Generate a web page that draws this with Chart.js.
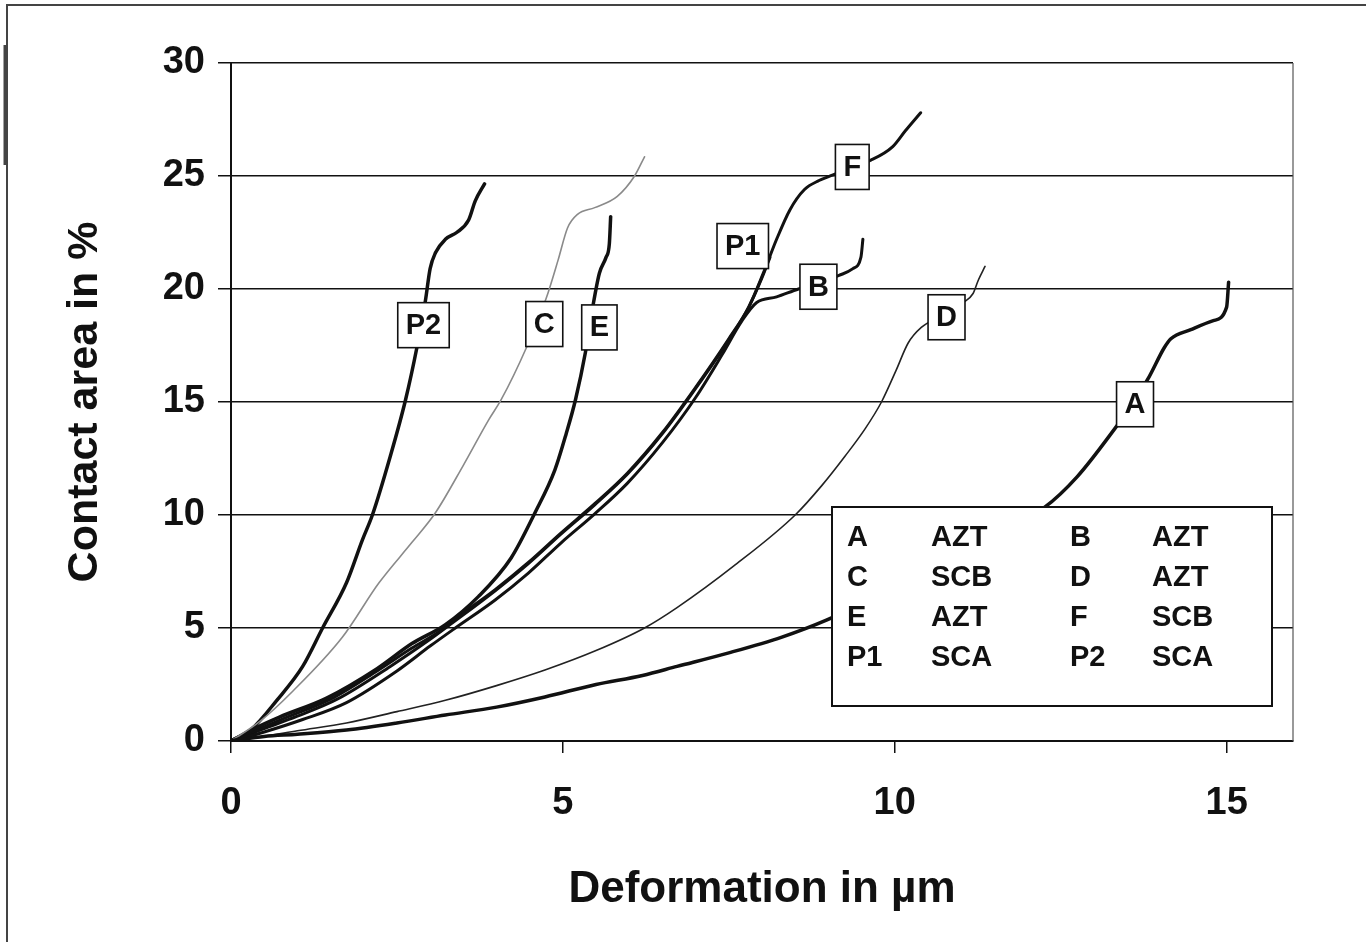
<!DOCTYPE html>
<html>
<head>
<meta charset="utf-8">
<title>Contact area vs deformation</title>
<script src="https://cdn.jsdelivr.net/npm/chart.js@4.4.1/dist/chart.umd.min.js"></script>
<style>
  html, body { margin: 0; padding: 0; background: #fff; }
  canvas { display: block; }
</style>
</head>
<body>
<canvas id="chart" width="1366" height="942"></canvas>
<script>
// Deformation (µm) and contact area (%) for each sample curve
const aX = [0, 0.5, 1.0, 1.74, 2.5, 3.23, 4.0, 4.73, 5.5, 6.2, 6.72, 7.5, 8.3, 8.97, 10.0, 11.0, 11.7, 12.26, 12.75, 13.31, 13.6, 13.83, 14.06, 14.16, 14.46, 14.8, 15.0, 15.03];
const aY = [0, 0.2, 0.3, 0.49, 0.8, 1.15, 1.5, 1.95, 2.5, 2.9, 3.3, 3.9, 4.6, 5.35, 6.8, 8.3, 9.5, 10.35, 11.7, 13.8, 15.0, 16.1, 17.4, 17.8, 18.2, 18.6, 19.2, 20.3];

const bX = [0, 0.5, 1.08, 1.74, 2.5, 3.0, 3.38, 3.98, 4.48, 4.97, 5.48, 5.97, 6.5, 7.0, 7.4, 7.7, 7.92, 8.22, 8.55, 8.85, 9.16, 9.37, 9.49, 9.52];
const bY = [0, 0.4, 0.95, 1.7, 3.1, 4.2, 5.0, 6.24, 7.43, 8.76, 10.05, 11.4, 13.2, 15.2, 17.1, 18.6, 19.4, 19.65, 20.0, 20.25, 20.6, 20.9, 21.4, 22.2];

const cX = [0, 0.45, 0.93, 1.68, 2.23, 2.73, 3.08, 3.5, 3.88, 4.07, 4.45, 4.75, 4.93, 5.07, 5.22, 5.48, 5.82, 6.08, 6.23];
const cY = [0, 0.9, 2.2, 4.6, 7.0, 8.8, 10.1, 12.2, 14.2, 15.1, 17.4, 19.6, 21.3, 22.7, 23.3, 23.6, 24.1, 25.0, 25.85];

const dX = [0, 0.5, 1.0, 1.74, 2.5, 3.23, 4.0, 4.73, 5.5, 6.23, 6.72, 7.6, 8.5, 8.9, 9.25, 9.55, 9.8, 10.02, 10.2, 10.4, 10.7, 11.03, 11.18, 11.26, 11.36];
const dY = [0, 0.2, 0.45, 0.8, 1.3, 1.8, 2.45, 3.14, 4.0, 5.0, 5.9, 7.8, 10.0, 11.3, 12.6, 13.8, 15.0, 16.4, 17.6, 18.3, 18.8, 19.4, 19.8, 20.4, 21.0];

const eX = [0, 0.35, 0.73, 1.44, 2.2, 2.72, 3.23, 3.73, 4.22, 4.58, 4.88, 5.05, 5.19, 5.34, 5.45, 5.55, 5.65, 5.7, 5.72];
const eY = [0, 0.55, 1.06, 1.9, 3.2, 4.3, 5.15, 6.4, 8.1, 10.1, 12.0, 13.6, 15.1, 17.2, 19.2, 20.7, 21.4, 22.0, 23.2];

const fX = [0, 0.4, 0.8, 1.5, 2.2, 2.72, 3.17, 3.47, 3.98, 4.48, 4.97, 5.48, 5.97, 6.5, 7.0, 7.5, 7.8, 8.02, 8.22, 8.42, 8.64, 8.86, 9.07, 9.35, 9.64, 9.97, 10.16, 10.39];
const fY = [0, 0.5, 1.0, 1.85, 3.1, 4.1, 4.9, 5.6, 6.7, 7.9, 9.2, 10.5, 11.85, 13.65, 15.65, 17.8, 19.2, 20.7, 22.2, 23.5, 24.4, 24.8, 25.05, 25.4, 25.7, 26.3, 27.0, 27.8];

const p1X = [0, 0.5, 1.0, 1.6, 2.4, 3.0, 3.3, 3.98, 4.48, 4.97, 5.48, 5.97, 6.5, 7.0, 7.5, 7.8, 8.0, 8.12];
const p1Y = [0, 0.55, 1.1, 1.85, 3.3, 4.5, 5.15, 6.65, 7.85, 9.15, 10.45, 11.8, 13.6, 15.6, 17.75, 19.2, 20.5, 21.4];

const p2X = [0, 0.3, 0.69, 1.08, 1.38, 1.74, 1.98, 2.13, 2.4, 2.63, 2.8, 2.93, 3.0, 3.08, 3.23, 3.4, 3.58, 3.68, 3.82];
const p2Y = [0, 0.5, 1.8, 3.3, 5.0, 7.0, 8.9, 10.0, 12.6, 15.1, 17.4, 19.5, 20.9, 21.6, 22.2, 22.5, 23.05, 23.9, 24.65];

// Curve names, materials and where each name tag sits (data units)
const curveNames = ['A', 'B', 'C', 'D', 'E', 'F', 'P1', 'P2'];
const materials = ['AZT', 'AZT', 'SCB', 'AZT', 'AZT', 'SCB', 'SCA', 'SCA'];
const tagX = [13.62, 8.85, 4.72, 10.78, 5.55, 9.36, 7.71, 2.90];
const tagY = [14.9, 20.1, 18.45, 18.75, 18.3, 25.4, 21.9, 18.4];

// Axis ticks
const xTicks = [0, 5, 10, 15];
const yTicks = [0, 5, 10, 15, 20, 25, 30];

const FONT = "'Liberation Sans', Arial, Helvetica, sans-serif";

function pts(xs, ys) { return xs.map((x, i) => ({ x: x, y: ys[i] })); }

const seriesPoints = [pts(aX, aY), pts(bX, bY), pts(cX, cY), pts(dX, dY), pts(eX, eY), pts(fX, fY), pts(p1X, p1Y), pts(p2X, p2Y)];
const lineColors = ['#111', '#111', '#8a8a8a', '#222', '#111', '#111', '#111', '#111'];
const lineWidths = [3.5, 3, 1.6, 1.6, 3.5, 3, 3, 3.5];

const datasets = curveNames.map((name, i) => ({
  label: name,
  data: seriesPoints[i],
  borderColor: lineColors[i],
  borderWidth: lineWidths[i],
  pointRadius: 0,
  fill: false,
  cubicInterpolationMode: 'monotone',
  borderCapStyle: 'round',
  borderJoinStyle: 'round'
}));

// Page frame, plot border, curve tags and the material key
const decorations = {
  id: 'decorations',
  beforeDraw(chart) {
    const ctx = chart.ctx;
    ctx.save();
    ctx.fillStyle = '#fff';
    ctx.fillRect(0, 0, chart.width, chart.height);
    ctx.strokeStyle = '#444';
    ctx.lineWidth = 2;
    ctx.beginPath();
    ctx.moveTo(7, chart.height);
    ctx.lineTo(7, 5);
    ctx.lineTo(chart.width, 5);
    ctx.stroke();
    ctx.lineWidth = 3;
    ctx.beginPath();
    ctx.moveTo(5, 45);
    ctx.lineTo(5, 165);
    ctx.stroke();
    ctx.restore();
  },
  afterDraw(chart) {
    const ctx = chart.ctx;
    const ca = chart.chartArea;
    const xs = chart.scales.x, ys = chart.scales.y;
    ctx.save();
    // thin right edge of the plot
    ctx.strokeStyle = '#555';
    ctx.lineWidth = 1.2;
    ctx.beginPath();
    ctx.moveTo(ca.right, ca.top);
    ctx.lineTo(ca.right, ca.bottom);
    ctx.stroke();

    // name tags on the curves
    ctx.font = 'bold 29px ' + FONT;
    ctx.textAlign = 'center';
    ctx.textBaseline = 'middle';
    curveNames.forEach((name, i) => {
      const cx = xs.getPixelForValue(tagX[i]);
      const cy = ys.getPixelForValue(tagY[i]);
      const w = ctx.measureText(name).width + 16;
      const h = 45;
      ctx.fillStyle = '#fff';
      ctx.fillRect(cx - w / 2, cy - h / 2, w, h);
      ctx.strokeStyle = '#111';
      ctx.lineWidth = 1.6;
      ctx.strokeRect(cx - w / 2, cy - h / 2, w, h);
      ctx.fillStyle = '#111';
      ctx.fillText(name, cx, cy + 1);
    });

    // material key
    const kx = ca.left + 601, ky = ca.top + 444, kw = 440, kh = 199;
    ctx.fillStyle = '#fff';
    ctx.fillRect(kx, ky, kw, kh);
    ctx.strokeStyle = '#111';
    ctx.lineWidth = 2;
    ctx.strokeRect(kx, ky, kw, kh);
    ctx.fillStyle = '#111';
    ctx.font = 'bold 29px ' + FONT;
    ctx.textAlign = 'left';
    const colOffsets = [15, 99, 238, 320];
    for (let r = 0; r < 4; r++) {
      const rowY = ky + 31 + r * 40;
      for (let c = 0; c < 2; c++) {
        const idx = r * 2 + c;
        ctx.fillText(curveNames[idx], kx + colOffsets[c * 2], rowY);
        ctx.fillText(materials[idx], kx + colOffsets[c * 2 + 1], rowY);
      }
    }
    ctx.restore();
  }
};

new Chart(document.getElementById('chart'), {
  type: 'line',
  data: { datasets: datasets },
  options: {
    responsive: false,
    animation: false,
    events: [],
    layout: { padding: { top: 63, right: 73, bottom: 0, left: 0 } },
    plugins: {
      legend: { display: false },
      tooltip: { enabled: false },
      title: { display: false }
    },
    scales: {
      x: {
        type: 'linear',
        min: 0,
        max: 16,
        afterFit(scale) { scale.height = 201; },
        afterBuildTicks(scale) { scale.ticks = xTicks.map(v => ({ value: v })); },
        ticks: {
          color: '#111',
          padding: 28,
          maxRotation: 0,
          font: { family: FONT, size: 38, weight: 'bold' }
        },
        grid: {
          drawOnChartArea: false,
          drawTicks: true,
          tickLength: 12,
          color: '#111',
          lineWidth: 1.5
        },
        border: { display: true, color: '#111', width: 2 },
        title: {
          display: true,
          text: 'Deformation in µm',
          color: '#111',
          font: { family: FONT, size: 44, weight: 'bold' },
          padding: { top: 0, bottom: 26 }
        }
      },
      y: {
        type: 'linear',
        min: 0,
        max: 30,
        afterFit(scale) { scale.width = 231; },
        afterBuildTicks(scale) { scale.ticks = yTicks.map(v => ({ value: v })); },
        ticks: {
          color: '#111',
          padding: 13,
          font: { family: FONT, size: 38, weight: 'bold' }
        },
        grid: {
          color: '#111',
          lineWidth: 1.5,
          drawTicks: true,
          tickLength: 13
        },
        border: { display: true, color: '#111', width: 2 },
        title: {
          display: true,
          text: 'Contact area in %',
          color: '#111',
          font: { family: FONT, size: 43, weight: 'bold' },
          padding: { top: 59, bottom: 0 }
        }
      }
    }
  },
  plugins: [decorations]
});
</script>
</body>
</html>
